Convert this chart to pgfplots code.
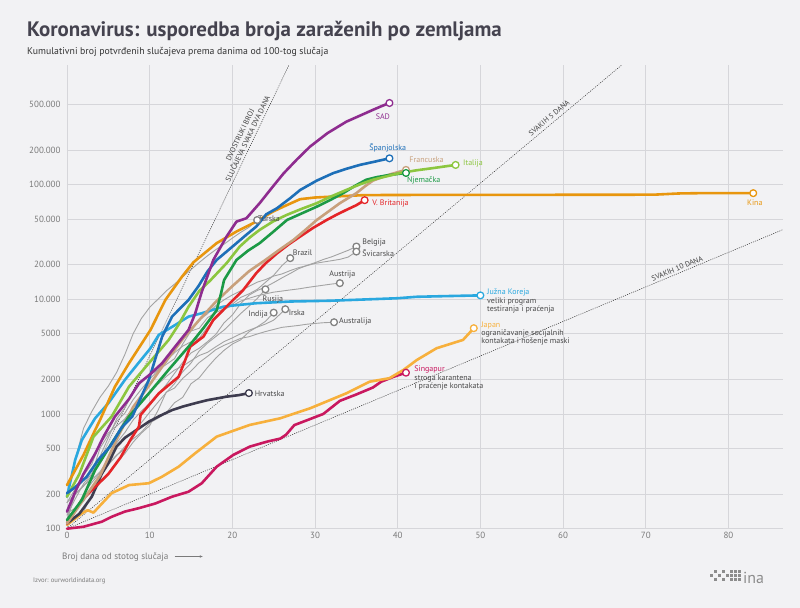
\documentclass[border=0pt]{standalone}
\usepackage{fontspec}
\setmainfont{PT Sans}
\usepackage{pgfplots}
\pgfplotsset{compat=1.18}
\usetikzlibrary{arrows.meta}

\definecolor{bg}{HTML}{F2F2F4}
\definecolor{gridc}{HTML}{D6D6DA}
\definecolor{titlec}{HTML}{45434F}
\definecolor{tickc}{HTML}{7A7A7A}
\definecolor{lblc}{HTML}{4A4A4A}
\definecolor{grayline}{HTML}{A3A3A3}
\definecolor{sad}{HTML}{8E2C8F}
\definecolor{esp}{HTML}{1D6FB8}
\definecolor{ita}{HTML}{8CC63F}
\definecolor{fra}{HTML}{C8A07C}
\definecolor{ger}{HTML}{1C9A46}
\definecolor{gbr}{HTML}{E42528}
\definecolor{chn}{HTML}{E8960E}
\definecolor{kor}{HTML}{2AA8DF}
\definecolor{jpn}{HTML}{F7B03C}
\definecolor{sgp}{HTML}{C9185F}
\definecolor{hrv}{HTML}{3E3C4F}

\begin{document}
\begin{tikzpicture}[
  oth/.style={draw=grayline, line width=0.9bp},
  hl/.style={draw=#1, line width=2.6bp},
  endpt/.style={only marks, mark=*, mark size=3.4bp, mark options={fill=white, draw=#1, line width=1.3bp}},
  lbl/.style={font=\fontsize{8}{8.4}\selectfont, inner sep=0pt},
  refl/.style={draw=black!75, line width=0.6bp, dash pattern=on 0.7bp off 1.5bp},
  reft/.style={font=\fontsize{7.5}{8.5}\selectfont, text=black!75, inner sep=0pt},
]
\fill[bg] (-67bp,-79.3bp) rectangle (733bp,528.7bp);

\begin{axis}[
  scale only axis, width=716bp, height=463.7bp,
  xmin=0, xmax=86.6, ymin=100, ymax=1100000, ymode=log,
  axis line style={draw=none}, major tick style={draw=none},
  grid=major, major grid style={draw=gridc, line width=0.8bp},
  xtick={0,10,...,80},
  ytick={100,200,500,1000,2000,5000,10000,20000,50000,100000,200000,500000},
  yticklabels={100,200,500,1000,2000,5000,10.000,20.000,50.000,100.000,200.000,500.000},
  /pgf/number format/assume math mode=true,
  ticklabel style={font=\fontsize{9}{10}\selectfont, text=tickc},
  yticklabel style={xshift=-3bp},
  clip=false,
  every axis plot/.append style={line join=round, line cap=round},
]

% reference lines: doubling every 2, 5 and 10 days
\addplot[refl] coordinates {(0,100) (26.85,1100000)};
\addplot[refl] coordinates {(0,100) (67.1,1100000)};
\addplot[refl] coordinates {(0,100) (86.6,40450)};
\node[reft, rotate=64.5, align=center] at (axis cs:21.4,260000) {DVOSTRUKI BROJ\\SLUČAJEVA SVAKA DVA DANA};
\node[reft, rotate=39.9] at (axis cs:58.3,380000) {SVAKIH 5 DANA};
\node[reft, rotate=22.5] at (axis cs:73.8,18500) {SVAKIH 10 DANA};

% other countries (grey)
\addplot[oth] coordinates {(0,191)(1,400)(2,750)(3,1050)(4,1400)(5,1750)(6,2300)(7,3300)(8,5000)(9,6800)(10,8500)(11,10000)(12,11800)(13,13531)(14,15679)(15,18135)(16,20921)(17,23934)(18,27069)(19,30217)(20,34109)(21,38226)(22,42282)(23,49000)};
\addplot[oth] coordinates {(0,121)(1,200)(2,234)(3,291)(4,428)(5,621)(6,904)(7,1128)(8,1546)(9,1891)(10,2201)(11,2433)(12,2915)(13,3417)(14,3904)(15,4256)(16,4579)(17,5717)(18,6836)(19,8044)(20,9056)(21,10360)(22,11130)(23,12161)(24,14034)(25,16170)(26,19638)(27,22800)};
\addplot[oth] coordinates {(0,169)(1,200)(2,239)(3,267)(4,314)(5,399)(6,559)(7,689)(8,886)(9,1058)(10,1243)(11,1486)(12,1795)(13,2257)(14,2815)(15,3401)(16,3743)(17,4269)(18,4937)(19,6235)(20,7284)(21,9134)(22,10836)(23,11899)(24,12775)(25,13964)(26,15348)(27,16770)(28,18431)(29,19691)(30,20814)(31,22194)(32,23403)(33,24983)(34,26667)(35,28800)};
\addplot[oth] coordinates {(0,114)(1,214)(2,268)(3,337)(4,374)(5,491)(6,652)(7,900)(8,1139)(9,1359)(10,2200)(11,2400)(12,2700)(13,3028)(14,4075)(15,5294)(16,6575)(17,7474)(18,8795)(19,9877)(20,10897)(21,11811)(22,12928)(23,14076)(24,14829)(25,15922)(26,16605)(27,17768)(28,18827)(29,19606)(30,20505)(31,21100)(32,21657)(33,22253)(34,23280)(35,26000)};
\addplot[oth] coordinates {(0,131)(1,182)(2,246)(3,302)(4,504)(5,655)(6,860)(7,1018)(8,1332)(9,1646)(10,2013)(11,2388)(12,2814)(13,3582)(14,4474)(15,5283)(16,5588)(17,6909)(18,7657)(19,8271)(20,8788)(21,9618)(22,10180)(23,10711)(24,11129)(25,11524)(26,11781)(27,12051)(28,12297)(29,12639)(30,12942)(31,13244)(32,13555)(33,13806)};
\addplot[oth] coordinates {(0,114)(1,147)(2,199)(3,253)(4,306)(5,367)(6,438)(7,495)(8,658)(9,840)(10,1036)(11,1264)(12,1534)(13,1836)(14,2337)(15,2777)(16,3548)(17,4149)(18,4731)(19,5389)(20,6343)(21,7497)(22,8672)(23,10131)(24,12200)};
\addplot[oth] coordinates {(0,137)(1,151)(2,173)(3,223)(4,283)(5,360)(6,434)(7,519)(8,606)(9,694)(10,834)(11,918)(12,1024)(13,1251)(14,1397)(15,1834)(16,2069)(17,2547)(18,3072)(19,3588)(20,4067)(21,4421)(22,5194)(23,5734)(24,6412)(25,7640)};
\addplot[oth] coordinates {(0,169)(1,223)(2,292)(3,366)(4,557)(5,683)(6,785)(7,906)(8,1125)(9,1329)(10,1564)(11,1819)(12,2121)(13,2415)(14,2615)(15,2910)(16,3235)(17,3447)(18,3849)(19,4273)(20,4604)(21,4994)(22,5364)(23,5709)(24,6074)(25,6574)(26.4,8180)};
\addplot[oth] coordinates {(0,107)(1,128)(2,140)(3,199)(4,250)(5,297)(6,377)(7,452)(8,568)(9,681)(10,791)(11,1071)(12,1549)(13,1682)(14,2044)(15,2364)(16,2810)(17,3179)(18,3635)(19,3966)(20,4250)(21,4557)(22,4707)(23,4976)(24,5224)(25,5454)(26,5687)(27,5795)(28,5908)(29,6052)(30,6152)(31,6238)(32.3,6300)};

% highlighted countries
\addplot[hl=sgp] coordinates {(0,100)(2,104)(4.2,115)(5.4,127)(7,141)(8.7,151)(10.7,166)(12.7,190)(14.7,210)(16.3,249)(18.1,347)(20.1,439)(22.1,519)(24.2,574)(25.8,610)(26.5,660)(27.5,800)(29,880)(31,1000)(33,1300)(35,1480)(37,1700)(38,1910)(39.5,2108)(41,2290)};
\addplot[hl=jpn] coordinates {(0,108)(1.8,136)(2.5,145)(3.2,138)(5.4,204)(7.5,240)(9.9,249)(11.5,284)(13.5,347)(15.5,454)(18.1,634)(22.1,802)(25.8,917)(29.4,1120)(33.8,1515)(36.6,1910)(39,2050)(40.7,2420)(42.3,2950)(44.7,3740)(47.9,4420)(49.2,5590)};
\addplot[hl=hrv] coordinates {(0,111)(1.5,135)(3,190)(4.2,300)(5,372)(6,520)(7,620)(8.1,701)(9.9,857)(11.2,960)(12.7,1080)(14,1160)(15.5,1240)(17,1320)(19.3,1415)(20.8,1460)(22,1520)};
\addplot[hl=kor] coordinates {(0,190)(1,400)(1.8,593)(3.4,917)(5,1240)(7,1980)(8.5,2700)(10.1,3740)(11.1,4890)(13.1,5970)(14.7,7050)(16.3,7550)(18.9,8600)(20,8800)(22.9,9230)(27,9550)(31.8,9700)(36,9950)(40,10200)(42.3,10500)(46,10650)(50,10800)};
\addplot[hl=chn] coordinates {(0,240)(2,440)(3.4,725)(4,887)(5.8,1730)(7.5,2770)(10.1,5400)(11.9,9860)(13.9,15700)(15.3,21000)(18.1,30800)(20.5,38900)(22.9,47500)(24.9,58000)(26.2,64200)(28.2,74500)(30,77000)(32.2,78500)(36,80800)(45,81200)(60,81300)(71,81500)(74,83500)(76.5,84000)(83,84000)};
\addplot[hl=gbr] coordinates {(0,111)(1.8,178)(3.5,235)(5,300)(6.5,420)(7.7,600)(8.7,775)(8.9,980)(11.1,1510)(13.5,2110)(14.3,2950)(14.9,3860)(16.5,4720)(17.7,6600)(19.7,9230)(21.3,12000)(22.9,16900)(24,20500)(25.4,25100)(26.8,30000)(28.2,35200)(29.8,42000)(31.4,49000)(32.6,54500)(33.8,60100)(35,66000)(36,73000)};
\addplot[hl=fra] coordinates {(0,111)(2,180)(4,290)(6,600)(8,1150)(10,1800)(12,2900)(14,4500)(16,6600)(18,9500)(20,13000)(22,17500)(24,22000)(25.7,27000)(27.4,32900)(28.8,40000)(30.2,49000)(31.6,58000)(33,68700)(34,76000)(35,84000)(36,96000)(37,108000)(38,115000)(39,122000)(40,128000)(41,134000)};
\addplot[hl=ger] coordinates {(0,119)(1.8,178)(3.4,325)(5.4,555)(7.5,950)(9.9,1510)(12.3,2430)(14.7,3860)(16.5,5600)(18.1,8000)(18.6,11000)(19,14700)(20.5,22000)(21.9,26500)(23.3,30800)(25,39000)(26.6,49000)(28.4,56000)(30.2,64000)(31.8,73000)(33.4,84000)(34.8,97000)(36.2,110000)(37.5,116000)(38.7,120000)(40,123500)(41,126000)};
\addplot[hl=ita] coordinates {(0,190)(1.5,300)(3.2,632)(5.4,950)(7.5,1730)(9.9,2770)(12.3,4420)(13.5,6000)(14.7,8600)(16,11800)(17.3,14500)(19.3,20600)(20.9,28800)(22.1,34500)(23.3,40200)(24.9,47500)(26.5,54000)(28.3,61000)(30.2,68700)(32,79000)(33.8,89700)(35.4,100000)(37,110000)(38.7,118000)(40.3,126000)(42.3,133000)(44.3,139000)(45.8,144000)(47,148000)};
\addplot[hl=esp] coordinates {(0,204)(1,230)(2.4,284)(3.8,400)(5.2,519)(6.6,760)(7.9,950)(9.9,1980)(11.5,4700)(12.7,7050)(14.7,9860)(15.9,13000)(17,17500)(18.1,22000)(19.3,26000)(20.5,30800)(21.7,36500)(22.9,43000)(24.1,55000)(25.4,62100)(27,76000)(28.2,89500)(30.2,108000)(32.2,125600)(33.8,137000)(35.4,148000)(37.2,158000)(39,169000)};
\addplot[hl=sad] coordinates {(0,141)(1,210)(2,300)(3.4,450)(4.5,650)(5.8,950)(7.5,1350)(8.7,1850)(10,2200)(11.5,2770)(13,3800)(14.7,5400)(15.5,7500)(16.3,11600)(17.7,22000)(19.3,35200)(20.5,47500)(21.7,50800)(23.3,68700)(24.9,95900)(26.2,125000)(27.8,165000)(29.4,214000)(31.5,280000)(33.8,353000)(35.5,400000)(37,447000)(38,480000)(39,513000)};

% end markers
\addplot[endpt=grayline!80!black] coordinates {(23,49000)(27,22800)(35,28800)(35,26000)(33,13806)(24,12200)(25,7640)(26.4,8180)(32.3,6300)};
\addplot[endpt=sgp] coordinates {(41,2290)};
\addplot[endpt=jpn] coordinates {(49.2,5590)};
\addplot[endpt=hrv] coordinates {(22,1520)};
\addplot[endpt=kor] coordinates {(50,10800)};
\addplot[endpt=chn] coordinates {(83,84000)};
\addplot[endpt=gbr] coordinates {(36,73000)};
\addplot[endpt=fra] coordinates {(41,134000)};
\addplot[endpt=ger] coordinates {(41,126000)};
\addplot[endpt=ita] coordinates {(47,148000)};
\addplot[endpt=esp] coordinates {(39,169000)};
\addplot[endpt=sad] coordinates {(39,513000)};

% labels
\node[lbl, text=sad] at (axis cs:38.2,391000) {SAD};
\node[lbl, text=esp] at (axis cs:38.8,209900) {Španjolska};
\node[lbl, text=fra, anchor=west] at (axis cs:41.4,164000) {Francuska};
\node[lbl, text=ita, anchor=west] at (axis cs:47.9,151000) {Italija};
\node[lbl, text=ger, anchor=west] at (axis cs:41.1,107500) {Njemačka};
\node[lbl, text=gbr, anchor=west] at (axis cs:36.9,67800) {V. Britanija};
\node[lbl, text=chn] at (axis cs:83.2,68700) {Kina};
\node[lbl, text=lblc, anchor=west] at (axis cs:23.1,50100) {Turska};
\node[lbl, text=lblc, anchor=west] at (axis cs:27.3,25600) {Brazil};
\node[lbl, text=lblc, anchor=west] at (axis cs:35.7,31000) {Belgija};
\node[lbl, text=lblc, anchor=west] at (axis cs:35.7,25300) {Švicarska};
\node[lbl, text=lblc] at (axis cs:33.3,16300) {Austrija};
\node[lbl, text=lblc] at (axis cs:24.9,9860) {Rusija};
\node[lbl, text=lblc, anchor=east] at (axis cs:24.3,7300) {Indija};
\node[lbl, text=lblc, anchor=west] at (axis cs:26.8,7600) {Irska};
\node[lbl, text=lblc, anchor=west] at (axis cs:32.9,6340) {Australija};
\node[lbl, text=lblc, anchor=west] at (axis cs:22.7,1514) {Hrvatska};
\node[lbl, text=lblc, anchor=north west, align=left] at (axis cs:50.8,12300)
  {\textcolor{kor}{Južna Koreja}\\veliki program\\testiranja i praćenja};
\node[lbl, text=lblc, anchor=north west, align=left] at (axis cs:50.1,6400)
  {\textcolor{jpn}{Japan}\\ograničavanje socijalnih\\kontakata i nošenje maski};
\node[lbl, text=lblc, anchor=north west, align=left] at (axis cs:42,2620)
  {\textcolor{sgp}{Singapur}\\stroga karantena\\i praćenje kontakata};
\end{axis}

% title, subtitle, axis title, source, logo
\node[anchor=base west, text=titlec, font=\fontsize{21}{24}\selectfont\bfseries, inner sep=0pt] at (-40bp,492bp) {Koronavirus: usporedba broja zaraženih po zemljama};
\node[anchor=base west, text=black!80, font=\fontsize{9.8}{11}\selectfont, inner sep=0pt] at (-40bp,474.2bp) {Kumulativni broj potvrđenih slučajeva prema danima od 100-tog slučaja};
\node[anchor=base west, text=tickc, font=\fontsize{9.2}{10}\selectfont, inner sep=0pt] (xl) at (-5bp,-30.3bp) {Broj dana od stotog slučaja};
\draw[tickc, line width=0.6bp, -{Stealth[length=3bp,width=2.5bp]}] ([xshift=6bp,yshift=2.5bp]xl.base east) -- ++(28bp,0);
\node[anchor=base west, text=tickc, font=\fontsize{6.7}{7}\selectfont, inner sep=0pt] at (-34bp,-53.3bp) {Izvor: ourworldindata.org};
\foreach \i/\j in {0/1,1/0,1/2,2/1,3/0,3/2,4/1,5/0,5/1,5/2,6/0,6/1,6/2,7/0,7/1,7/2}
  \fill[black!45] ({643bp+\i*4bp},{-52bp+\j*4bp}) rectangle ++(2.6bp,2.6bp);
\node[anchor=base west, text=black!45, font=\fontsize{16}{18}\selectfont, inner sep=0pt] at (676bp,-54.3bp) {ina};

\pgfresetboundingbox
\path[use as bounding box] (-67bp,-79.3bp) rectangle (733bp,528.7bp);
\end{tikzpicture}
\end{document}
